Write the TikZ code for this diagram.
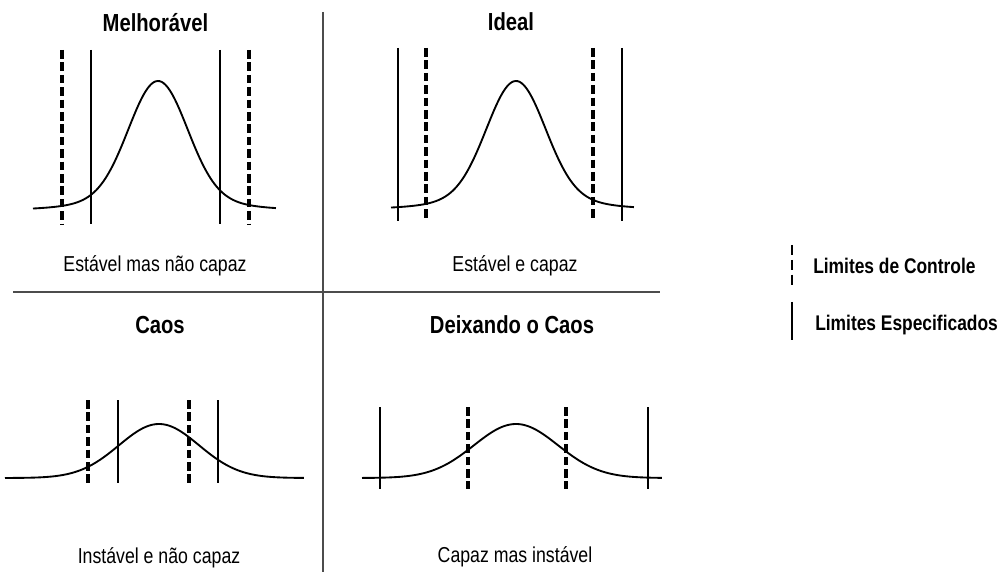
\documentclass[tikz,border=0pt]{standalone}
\usepackage{fontspec}
\setmainfont{Liberation Sans}[FakeStretch=0.82]
\tikzset{
  title/.style={anchor=base,inner sep=0pt,font=\fontsize{18.5}{22}\selectfont\bfseries},
  subtitle/.style={anchor=base,inner sep=0pt,font=\fontsize{16.2}{19}\selectfont},
  legendtext/.style={anchor=base west,inner sep=0pt,font=\fontsize{15.9}{19}\selectfont\bfseries},
  speclim/.style={draw=black,line width=1pt},
  ctrllim/.style={draw=black,line width=2.4pt,dash pattern=on 6.4pt off 2.9pt},
  bell/.style={draw=black,line width=1.4pt,smooth},
  divider/.style={draw=black!70,line width=0.8pt}}
\begin{document}
\begin{tikzpicture}[x=0.75pt,y=-0.75pt]
\useasboundingbox (0,0) rectangle (1004,574);
% dividers
\path[divider] (323,12) -- (323,572);
\path[divider] (13,292) -- (660,292);
% ---- Panel 1: Melhoravel
\node[title] (t1) at (155.5,32) {Melhorável};
\path[bell] plot[domain=-1.25:1.18,samples=120] ({158+100*\x},{210-129*(0.9*exp(-\x*\x/0.17)+0.1*exp(-\x*\x/0.72))});
\path[speclim] (91,50) -- (91,224);
\path[speclim] (220,50) -- (220,224);
\path[ctrllim] (62,50) -- (62,224);
\path[ctrllim] (249,50) -- (249,224);
\node[subtitle] (s1) at (155,272) {Estável mas não capaz};
% ---- Panel 2: Ideal
\node[title] (t2) at (511,31) {Ideal};
\path[bell] plot[domain=-1.25:1.18,samples=120] ({516+100*\x},{209-128*(0.9*exp(-\x*\x/0.17)+0.1*exp(-\x*\x/0.72))});
\path[speclim] (398,48) -- (398,221);
\path[speclim] (622,48) -- (622,221);
\path[ctrllim] (426,48) -- (426,221);
\path[ctrllim] (593,48) -- (593,221);
\node[subtitle] (s2) at (515,272) {Estável e capaz};
% ---- Panel 3: Caos
\node[title] (t3) at (160,333) {Caos};
\path[bell] plot[domain=-1.54:1.45,samples=120] ({159+100*\x},{478-54*exp(-\x*\x/0.32)});
\path[speclim] (118,400) -- (118,483);
\path[speclim] (218,400) -- (218,483);
\path[ctrllim] (88,400) -- (88,483);
\path[ctrllim] (189,400) -- (189,483);
\node[subtitle] (s3) at (159,563) {Instável e não capaz};
% ---- Panel 4: Deixando o Caos
\node[title] (t4) at (512,334) {Deixando o Caos};
\path[bell] plot[domain=-1.54:1.46,samples=120] ({516+100*\x},{478-54*exp(-\x*\x/0.3528)});
\path[speclim] (380,407) -- (380,489);
\path[speclim] (648,407) -- (648,489);
\path[ctrllim] (468,407) -- (468,489);
\path[ctrllim] (566,407) -- (566,489);
\node[subtitle] (s4) at (515,562) {Capaz mas instável};
% ---- Legend
\coordinate (lc1) at (792,245);
\coordinate (lc2) at (792,285);
\coordinate (ls1) at (792,302);
\coordinate (ls2) at (792,340);
\draw[line width=1.1pt,black,dash pattern=on 7.5pt off 3.6pt] (lc1) -- (lc2);
\draw[line width=1.1pt,black] (ls1) -- (ls2);
\node[legendtext] (l1) at (813,273) {Limites de Controle};
\node[legendtext] (l2) at (815,330) {Limites Especificados};
\end{tikzpicture}
\end{document}
